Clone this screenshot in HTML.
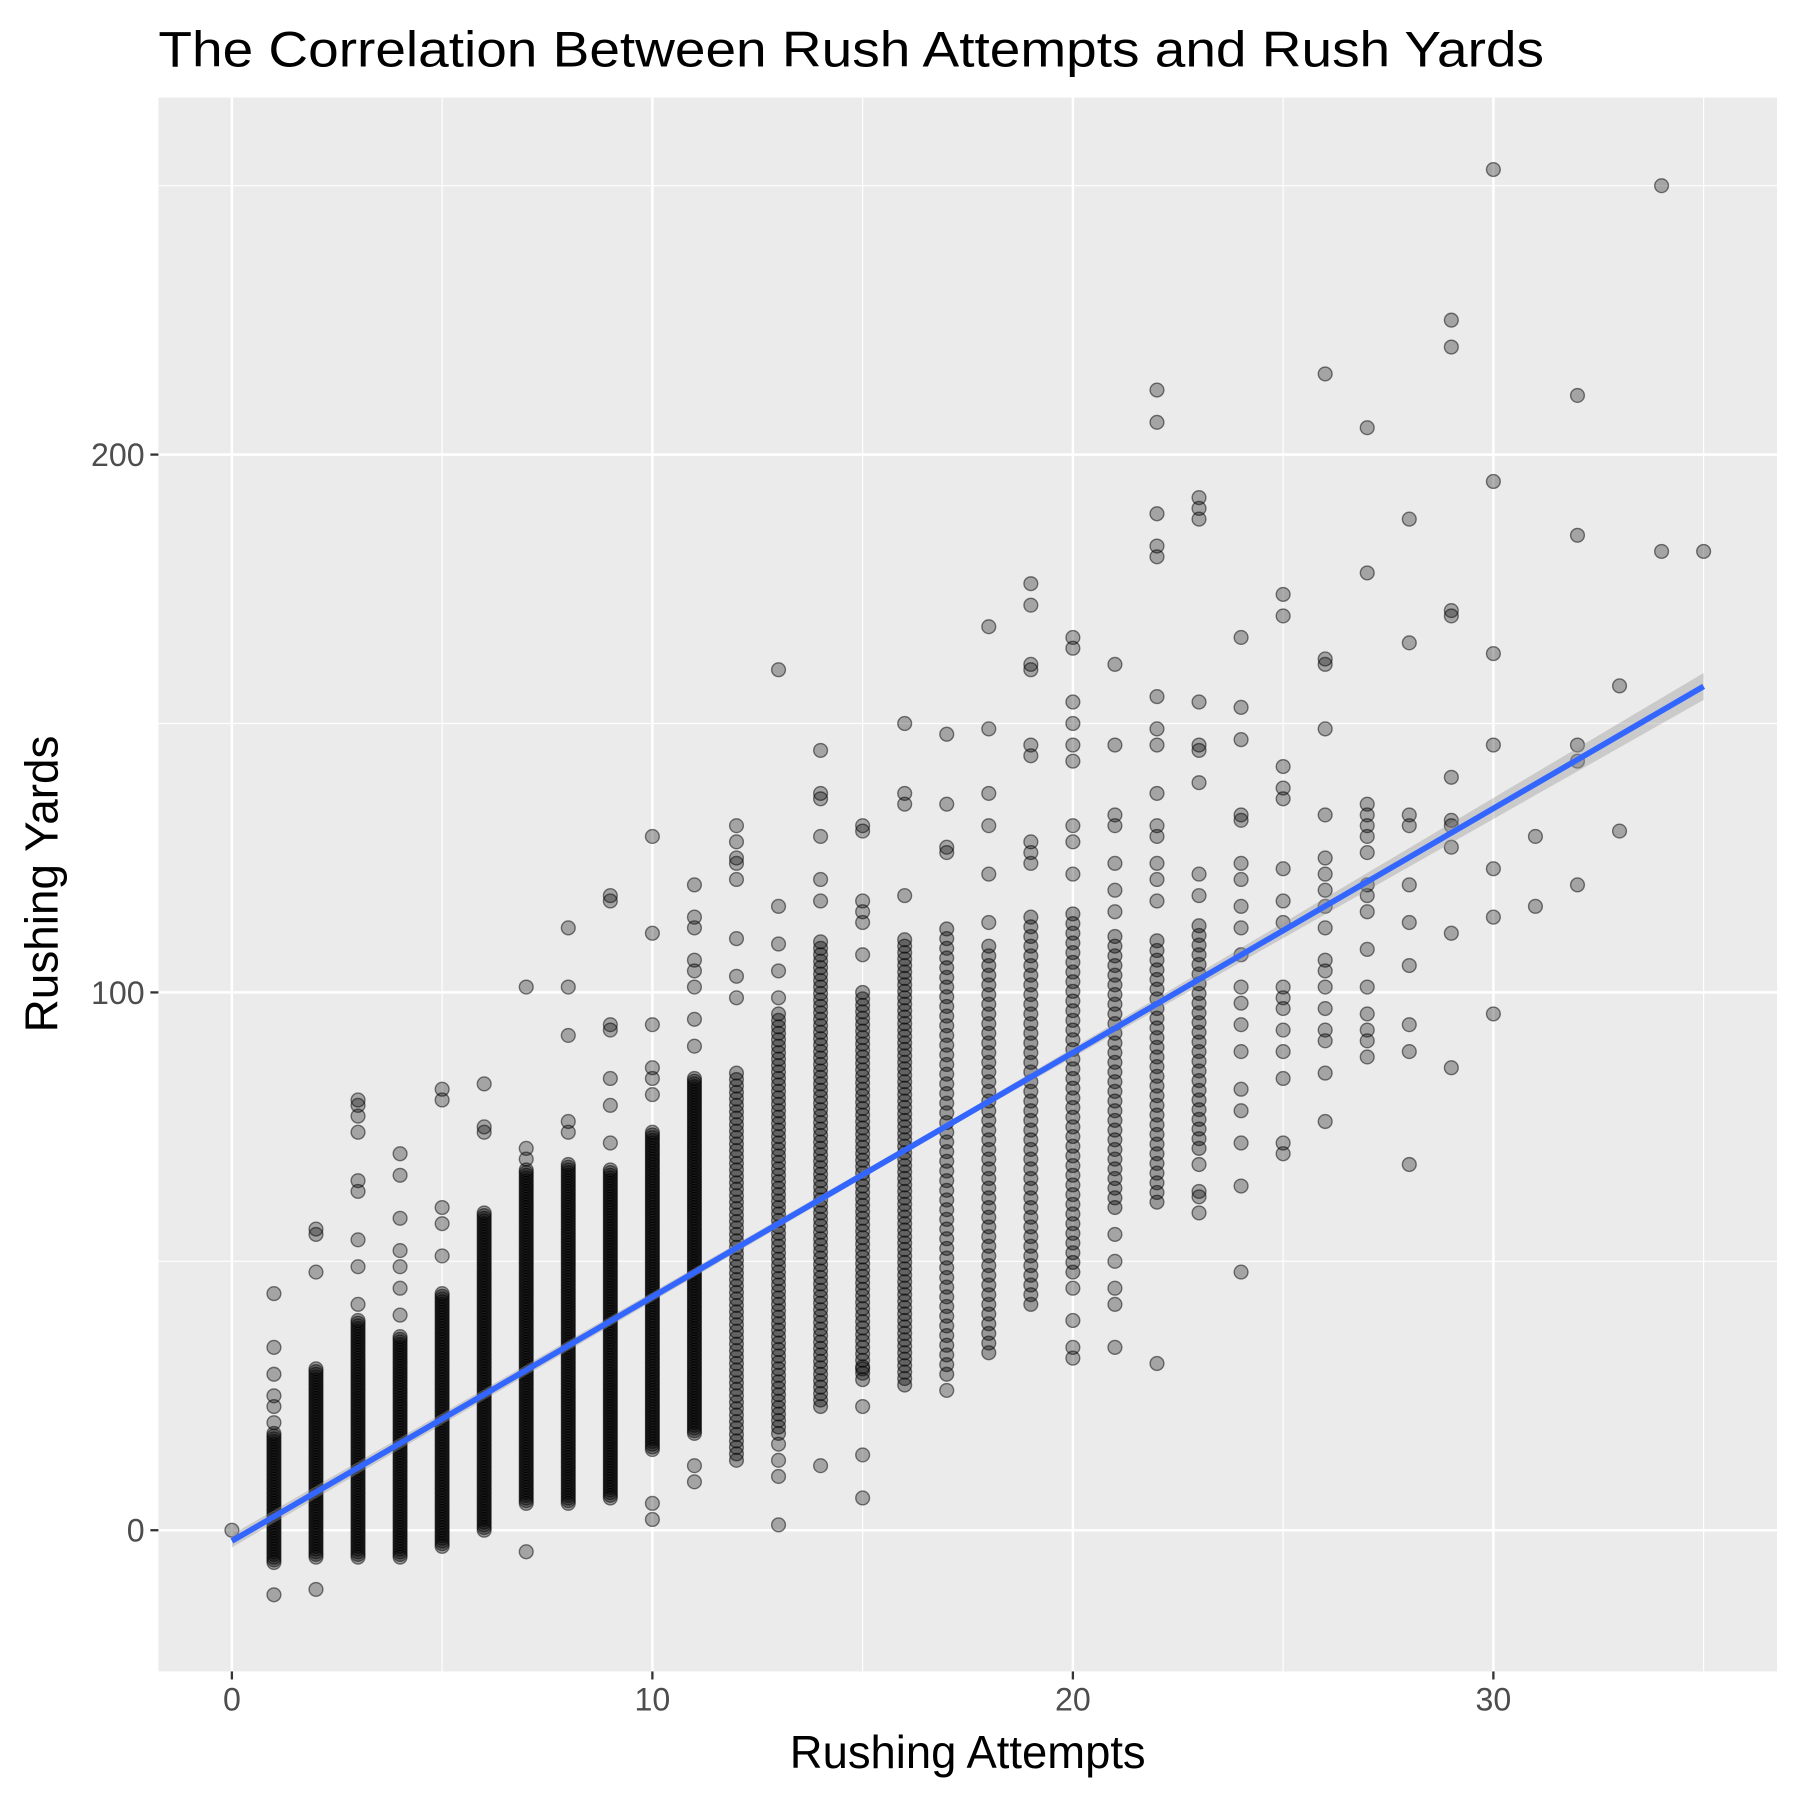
<!DOCTYPE html>
<html><head><meta charset="utf-8"><style>
html,body{margin:0;padding:0;background:#fff}
svg{display:block;font-family:"Liberation Sans",sans-serif}
</style></head><body>
<svg id="chart" width="1800" height="1800" viewBox="0 0 1568 1568" xmlns="http://www.w3.org/2000/svg">
<text x="138" y="58" font-size="44" textLength="1207" lengthAdjust="spacingAndGlyphs" fill="#000">The Correlation Between Rush Attempts and Rush Yards</text>
<rect x="138" y="85" width="1410" height="1371" fill="#ebebeb"/>
<g id="grid"></g>
<g id="dots"></g>
<g id="fit"></g>
<g id="axes"></g>
<text x="843" y="1540" font-size="40" textLength="310" lengthAdjust="spacingAndGlyphs" text-anchor="middle" fill="#000">Rushing Attempts</text>
<text transform="translate(50,770) rotate(-90)" font-size="40" text-anchor="middle" fill="#000">Rushing Yards</text>
</svg>
<script>
const xTicks=[0,10,20,30];
const xMinor=[5,15,25,35];
const yTicks=[0,100,200];
const yMinor=[50,150,250];
// dense columns: attempts, low yards, high yards
const denseX=[1,2,3,4,5,6,7,8,9,10,11,12,13,14,15,16,17,18,19,20,21,22,23];
const denseLo=[-6,-5,-5,-5,-3,0,5,5,6,15,18,13,18,23,28,27,29,33,42,48,60,61,71];
const denseHi=[18,30,39,36,44,59,67,68,67,74,84,86,97,110,101,111,113,110,114,116,112,111,114];
// individual points: [attempts, yards]
const ptsX=[0,1,1,1,1,1,1,1,2,2,2,2,3,3,3,3,3,3,3,3,3,4,4,4,4,4,4,4,5,5,5,5,5,6,6,6,7,7,7,7,8,8,8,8,8,9,9,9,9,9,9,9,10,10,10,10,10,10,10,10,11,11,11,11,11,11,11,11,11,11,12,12,12,12,12,12,12,12,13,13,13,13,13,13,13,13,13,14,14,14,14,14,14,14,15,15,15,15,15,15,15,15,15,15,16,16,16,16,17,17,17,17,17,18,18,18,18,18,18,19,19,19,19,19,19,19,19,19,20,20,20,20,20,20,20,20,20,20,20,20,20,21,21,21,21,21,21,21,21,21,21,21,21,22,22,22,22,22,22,22,22,22,22,22,22,22,22,22,23,23,23,23,23,23,23,23,23,23,23,23,23,24,24,24,24,24,24,24,24,24,24,24,24,24,24,24,24,24,24,24,25,25,25,25,25,25,25,25,25,25,25,25,25,25,25,25,26,26,26,26,26,26,26,26,26,26,26,26,26,26,26,26,26,26,27,27,27,27,27,27,27,27,27,27,27,27,27,27,27,27,28,28,28,28,28,28,28,28,28,28,29,29,29,29,29,29,29,29,29,29,30,30,30,30,30,30,30,31,31,32,32,32,32,32,33,33,34,34,35];
const ptsY=[0,44,34,29,25,23,20,-12,56,55,48,-11,80,79,77,74,65,63,54,49,42,70,66,58,52,49,45,40,82,80,60,57,51,83,75,74,101,71,69,-4,112,101,92,76,74,118,117,94,93,84,79,72,129,111,94,86,84,81,5,2,120,114,112,106,104,101,95,90,12,9,131,128,125,124,121,110,103,99,160,116,109,104,99,16,13,10,1,145,137,136,129,121,117,12,131,130,117,115,113,107,23,14,6,30,150,137,135,118,148,135,127,126,26,168,149,137,131,122,113,176,172,161,160,146,144,128,126,124,166,164,154,150,146,143,131,128,122,45,39,34,32,161,146,133,131,124,119,115,55,50,45,42,34,212,206,189,183,181,155,149,146,137,131,129,124,121,117,31,192,190,188,154,146,145,139,122,118,68,63,62,59,166,153,147,133,132,124,121,116,112,107,101,98,94,89,82,78,72,64,48,174,170,142,138,136,123,117,113,101,99,97,93,89,84,72,70,215,162,161,149,133,125,122,119,116,112,106,104,101,97,93,91,85,76,205,178,135,133,131,129,126,120,118,115,108,101,96,93,91,88,188,165,133,131,120,113,105,94,89,68,225,220,171,170,140,132,131,127,111,86,253,195,163,146,123,114,96,116,129,211,185,146,143,120,157,130,250,182,182];
const fitStart=-2, fitSlope=4.54;

const NS="http://www.w3.org/2000/svg";
const X0=138,X1=1548,Y0=85,Y1=1456;
const sx=v=>202+v*36.63;
const sy=v=>1333-v*4.685;
function mk(tag,attrs,parent){const e=document.createElementNS(NS,tag);for(const k in attrs)e.setAttribute(k,attrs[k]);parent.appendChild(e);return e;}
const grid=document.getElementById('grid'),dots=document.getElementById('dots'),fit=document.getElementById('fit'),axes=document.getElementById('axes');
yMinor.forEach(v=>{const l=mk('line',{x1:X0,x2:X1,y1:sy(v),y2:sy(v),stroke:'#fff','stroke-width':1},grid);

});
xMinor.forEach(v=>{const l=mk('line',{x1:sx(v),x2:sx(v),y1:Y0,y2:Y1,stroke:'#fff','stroke-width':1},grid);

});
yTicks.forEach(v=>{const l=mk('line',{x1:X0,x2:X1,y1:sy(v),y2:sy(v),stroke:'#fff','stroke-width':2.2},grid);


const t=mk('line',{x1:X0-7,x2:X0,y1:sy(v),y2:sy(v),stroke:'#333','stroke-width':2},axes);


const tx=mk('text',{x:X0-12,y:sy(v)+10,'font-size':28,'text-anchor':'end',fill:'#4d4d4d'},axes);tx.textContent=v;

});
xTicks.forEach(v=>{const l=mk('line',{x1:sx(v),x2:sx(v),y1:Y0,y2:Y1,stroke:'#fff','stroke-width':2.2},grid);


const t=mk('line',{x1:sx(v),x2:sx(v),y1:Y1,y2:Y1+7,stroke:'#333','stroke-width':2},axes);


const tx=mk('text',{x:sx(v),y:Y1+34,'font-size':28,'text-anchor':'middle',fill:'#4d4d4d'},axes);tx.textContent=v;

});
function dot(x,y,a){const c=mk('circle',{cx:sx(x),cy:sy(y),r:6,fill:'rgba(0,0,0,'+a+')',stroke:'rgba(0,0,0,0.5)','stroke-width':1.2},dots);

}
denseX.forEach((x,i)=>{const st=x<=11?0.5:(x<=16?1.2:1.8);for(let y=denseLo[i];y<=denseHi[i];y+=st)dot(x,y,0.35);});
ptsX.forEach((x,i)=>dot(x,ptsY[i],0.3));
const xe=35;
const band=mk('polygon',{points:`${sx(0)},${sy(fitStart+1.2)} ${sx(xe/2)},${sy(fitStart+fitSlope*xe/2+0.6)} ${sx(xe)},${sy(fitStart+fitSlope*xe+2.5)} ${sx(xe)},${sy(fitStart+fitSlope*xe-2.5)} ${sx(xe/2)},${sy(fitStart+fitSlope*xe/2-0.6)} ${sx(0)},${sy(fitStart-1.2)}`,fill:'rgba(153,153,153,0.4)'},fit);


const ln=mk('line',{x1:sx(0),y1:sy(fitStart),x2:sx(xe),y2:sy(fitStart+fitSlope*xe),stroke:'#3366FF','stroke-width':5},fit);


</script>
</body></html>
